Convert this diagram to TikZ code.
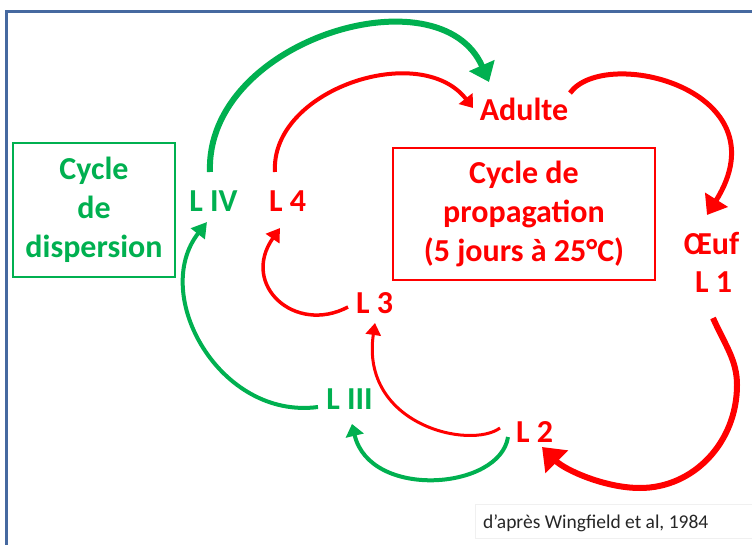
\documentclass[tikz,border=0pt]{standalone}
\usepackage{fontspec}
\setmainfont{Carlito}
\usetikzlibrary{arrows.meta,calc}
\definecolor{pgreen}{HTML}{00B050}
\definecolor{pred}{HTML}{FF0000}
\definecolor{framec}{RGB}{70,105,160}
\definecolor{credc}{RGB}{38,38,38}
\begin{document}
\begin{tikzpicture}[x=1pt,y=-1pt,
  lbl/.style={font=\fontsize{32}{39}\selectfont\bfseries, inner sep=0pt, anchor=base},
  redlbl/.style={lbl, text=pred},
  greenlbl/.style={lbl, text=pgreen},
  cyclebox/.style={draw, align=center, inner sep=0pt, font=\fontsize{32}{39}\selectfont\bfseries},
  rarr/.style n args={3}{draw=pred, line width=#1, -{Triangle[length=#2,width=#3]}},
  garr/.style n args={3}{draw=pgreen, line width=#1, -{Triangle[length=#2,width=#3]}}
]
\useasboundingbox (0,0) rectangle (752,545);
% outer frame
\draw[framec, line width=2.5pt] (6.5,11.5) rectangle (780,580);
% credit box
\draw[black!6, line width=1pt] (475,504) rectangle (780,538);
\node[font=\fontsize{19.5}{23}\selectfont, text=credc, inner sep=0pt, anchor=base west] (credit) at (483,528) {d’après Wingfield et al, 1984};

% boxes
\node[cyclebox, draw=pred, text=pred, line width=2pt, minimum width=262pt, minimum height=132pt] (prop) at (524,214) {Cycle de\\propagation\\(5 jours à 25°C)};
\node[cyclebox, draw=pgreen, text=pgreen, line width=1.8pt, minimum width=162pt, minimum height=134pt] (disp) at (94,210) {Cycle\\de\\dispersion};

% stage labels
\node[redlbl] (adulte) at (524,121) {Adulte};
\node[redlbl] (oeuf) at (711.5,255) {Œuf};
\node[redlbl] (l1) at (713.5,293) {L 1};
\node[redlbl] (l2) at (534.5,442) {L 2};
\node[redlbl] (l3) at (374.5,313) {L 3};
\node[redlbl] (l4) at (287.5,212) {L 4};
\node[greenlbl] (liii) at (349.5,409) {L III};
\node[greenlbl] (liv) at (213.5,212) {L IV};

% propagation cycle (red)
\draw[rarr={5pt}{18pt}{26pt}] ($(adulte.base)+(46,-28)$) .. controls (605,45) and (785,90) .. ($(oeuf.base)+(-4.5,-40)$);
\draw[rarr={6pt}{21pt}{31pt}] ($(l1.base)+(-0.5,25)$) .. controls (725,345) and (737,360) .. (737,385)
   .. controls (737,442) and (694,488) .. (640,488)
   .. controls (605,488) and (565,470) .. ($(l2.base)+(7.5,5)$);
\draw[rarr={3pt}{12pt}{15pt}] ($(l2.base)+(-34.5,-14)$) .. controls (470,450) and (360,425) .. ($(l3.base)+(0.5,10)$);
\draw[rarr={3.5pt}{13pt}{16pt}] ($(l3.base)+(-26.5,-6)$) .. controls (295,335) and (240,285) .. ($(l4.base)+(-7.5,16)$);
\draw[rarr={4pt}{12pt}{17pt}] ($(l4.base)+(-12.5,-40)$) .. controls (270,90) and (420,40) .. ($(adulte.base)+(-51,-13)$);

% dispersion cycle (green)
\draw[garr={4pt}{12pt}{18pt}] ($(l2.base)+(-26.5,-5)$) .. controls (500,490) and (370,500) .. ($(liii.base)+(2.5,15)$);
\draw[garr={4pt}{15pt}{17pt}] ($(liii.base)+(-31.5,-2)$) .. controls (220,420) and (150,295) .. ($(liv.base)+(-6.5,10)$);
\draw[garr={6pt}{18pt}{27pt}] ($(liv.base)+(-3.5,-40)$) .. controls (205,40) and (440,-30) .. ($(adulte.base)+(-35,-39)$);
\end{tikzpicture}
\end{document}
